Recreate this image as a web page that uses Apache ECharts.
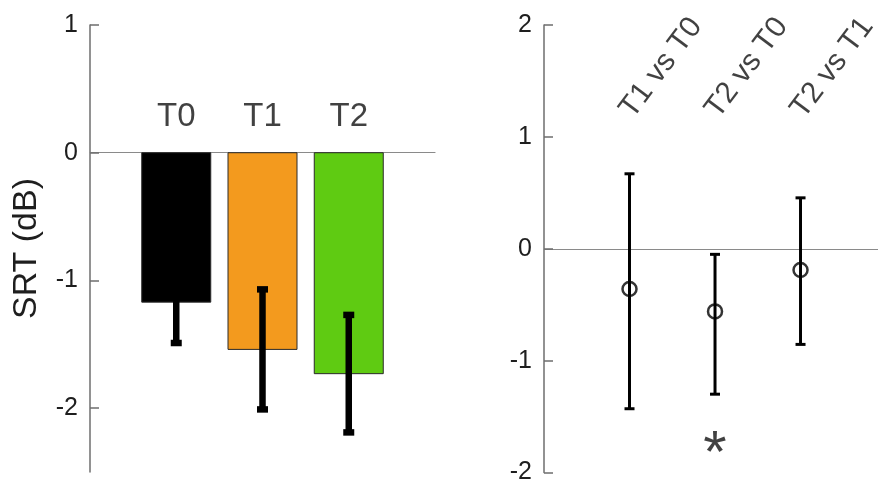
<!DOCTYPE html>
<html><head><meta charset="utf-8">
<script src="https://cdn.jsdelivr.net/npm/echarts@6/dist/echarts.min.js"></script>
<style>html,body{margin:0;padding:0;background:#fff}#c{width:878px;height:485px}</style>
</head><body><div id="c"></div>
<script>
// ---- data ----
const groups = ['T0', 'T1', 'T2'];
const srtMean = [-1.17, -1.54, -1.73];
const srtErr = [0.32, 0.47, 0.46];
const barColors = ['#000000', '#F39A1E', '#5FCB12'];
const comparisons = ['T1 vs T0', 'T2 vs T0', 'T2 vs T1'];
const diffMean = [-0.36, -0.56, -0.19];
const diffLow = [-1.43, -1.30, -0.855];
const diffHigh = [0.67, -0.05, 0.455];
const significant = [false, true, false];
const leftTicks = [-2, -1, 0, 1];
const rightTicks = [-2, -1, 0, 1, 2];

// ---- styling ----
const FONT = '"Liberation Sans", Arial, sans-serif';
const AXIS_COLOR = '#6e6e6e';
const TEXT_COLOR = '#1e1e1e';
const groupLabelY = 0.284;
const compLabelY = 1.12;
const compLabelDx = 0.1;
const starY = -1.85;

const chart = echarts.init(document.getElementById('c'));

function yAxisCfg(gridIndex, min, max, ticks, extra) {
  return Object.assign({
    type: 'value', gridIndex: gridIndex, min: min, max: max,
    splitLine: { show: false },
    axisLine: { show: true, lineStyle: { color: AXIS_COLOR, width: 1.5 } },
    axisTick: { show: true, inside: true, length: 9, customValues: ticks, lineStyle: { color: AXIS_COLOR, width: 1.5 } },
    axisLabel: { customValues: ticks, fontFamily: FONT, fontSize: 25, color: TEXT_COLOR, margin: 12 }
  }, extra || {});
}
function xAxisCfg(gridIndex, max) {
  return {
    type: 'value', gridIndex: gridIndex, min: 0, max: max,
    axisLine: { show: true, onZero: true, lineStyle: { color: '#8a8a8a', width: 1.2 } },
    axisTick: { show: false }, axisLabel: { show: false }, splitLine: { show: false }
  };
}

function errRender(lw, capW) {
  return function (params, api) {
    const x = api.value(0);
    const lo = api.coord([x, api.value(1)]);
    const hi = api.coord([x, api.value(2)]);
    const st = { stroke: '#000', lineWidth: lw };
    return {
      type: 'group', children: [
        { type: 'line', shape: { x1: lo[0], y1: lo[1], x2: hi[0], y2: hi[1] }, style: st },
        { type: 'line', shape: { x1: lo[0] - capW / 2, y1: lo[1], x2: lo[0] + capW / 2, y2: lo[1] }, style: st },
        { type: 'line', shape: { x1: hi[0] - capW / 2, y1: hi[1], x2: hi[0] + capW / 2, y2: hi[1] }, style: st }
      ]
    };
  };
}

const option = {
  animation: false,
  backgroundColor: '#fff',
  grid: [
    { left: 90, top: 25, width: 345, height: 447 },
    { left: 544, top: 25, right: 0, height: 448 }
  ],
  xAxis: [xAxisCfg(0, 4), xAxisCfg(1, 3.906)],
  yAxis: [
    yAxisCfg(0, -2.5, 1, leftTicks, {
      name: 'SRT (dB)', nameLocation: 'middle', nameRotate: 90, nameGap: 46,
      nameTextStyle: { fontFamily: FONT, fontSize: 34, color: TEXT_COLOR }
    }),
    yAxisCfg(1, -2, 2, rightTicks)
  ],
  series: [
    {
      type: 'custom', xAxisIndex: 0, yAxisIndex: 0, z: 2,
      data: groups.map((g, i) => [i + 1, srtMean[i]]),
      renderItem: function (params, api) {
        const x = api.value(0);
        const p0 = api.coord([x, 0]);
        const p1 = api.coord([x, api.value(1)]);
        const w = api.size([0.8, 0])[0];
        return {
          type: 'rect',
          shape: { x: p0[0] - w / 2, y: p0[1], width: w, height: p1[1] - p0[1] },
          style: { fill: barColors[params.dataIndex], stroke: '#2a2a2a', lineWidth: 1 }
        };
      }
    },
    {
      type: 'custom', xAxisIndex: 0, yAxisIndex: 0, z: 3,
      data: groups.map((g, i) => [i + 1, srtMean[i] - srtErr[i], srtMean[i] + srtErr[i]]),
      renderItem: errRender(6.5, 11)
    },
    {
      type: 'scatter', xAxisIndex: 0, yAxisIndex: 0, symbolSize: 1,
      itemStyle: { color: 'rgba(0,0,0,0)' },
      data: groups.map((g, i) => [i + 1, groupLabelY]),
      label: {
        show: true, position: 'inside', fontFamily: FONT, fontSize: 33, color: '#111',
        formatter: p => groups[p.dataIndex]
      }
    },
    {
      type: 'custom', xAxisIndex: 1, yAxisIndex: 1, z: 3,
      data: comparisons.map((c, i) => [i + 1, diffLow[i], diffHigh[i]]),
      renderItem: errRender(3, 10)
    },
    {
      type: 'scatter', xAxisIndex: 1, yAxisIndex: 1, z: 4,
      symbol: 'circle', symbolSize: 14,
      itemStyle: { color: 'rgba(0,0,0,0)', borderColor: '#000', borderWidth: 2.5 },
      data: comparisons.map((c, i) => [i + 1, diffMean[i]])
    },
    {
      type: 'scatter', xAxisIndex: 1, yAxisIndex: 1, symbolSize: 1,
      itemStyle: { color: 'rgba(0,0,0,0)' },
      data: comparisons.map((c, i) => [i + 1 + compLabelDx, compLabelY]),
      label: {
        show: true, position: 'inside', align: 'left', verticalAlign: 'bottom',
        rotate: 53,
        fontFamily: FONT, fontSize: 30, color: '#111',
        formatter: p => comparisons[p.dataIndex]
      }
    },
    {
      type: 'scatter', xAxisIndex: 1, yAxisIndex: 1, symbolSize: 1,
      itemStyle: { color: 'rgba(0,0,0,0)' },
      data: comparisons.map((c, i) => [i + 1, starY]).filter((d, i) => significant[i]),
      label: {
        show: true, position: 'inside', fontFamily: FONT, fontSize: 60, color: '#111',
        formatter: '*'
      }
    }
  ]
};
chart.setOption(option);
</script>
</body></html>
